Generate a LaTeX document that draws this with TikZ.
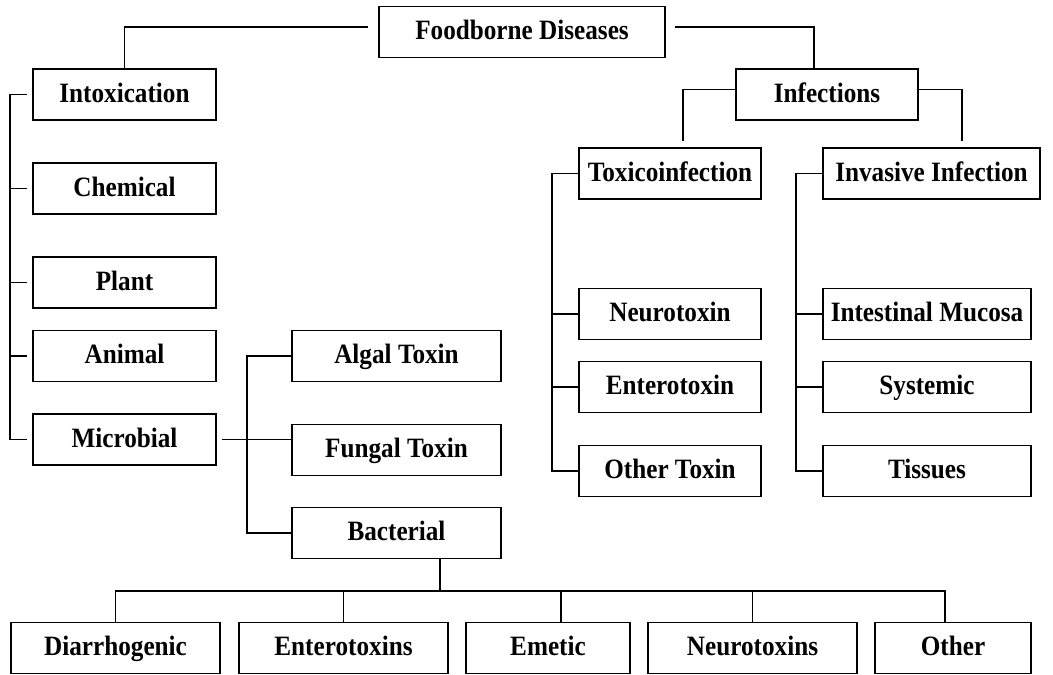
\documentclass[tikz,border=0pt]{standalone}
\usepackage{fontspec}
\setmainfont{Liberation Serif}[FakeStretch=0.9]
\usetikzlibrary{positioning}

\begin{document}
\begin{tikzpicture}[x=1pt,y=-1pt,
    box/.style={draw, line width=1.2pt, minimum height=51pt, inner sep=0pt,
                text height=20pt, text depth=5pt,
                font=\fontsize{28}{32}\selectfont\bfseries},
    link/.style={line width=1.2pt}]
                \useasboundingbox (0,0) rectangle (1053,675);

                % Root
                \node[box, minimum width=286pt] (fd) at (522,32) {Foodborne Diseases};

                % Intoxication branch
                \node[box, minimum width=183pt] (intox) at (124.5,94.5) {Intoxication};
                \node[box, minimum width=183pt] (chem) at (124.5,188.5) {Chemical};
                \node[box, minimum width=183pt] (plant) at (124.5,282.5) {Plant};
                \node[box, minimum width=183pt] (animal) at (124.5,356) {Animal};
                \node[box, minimum width=183pt] (microb) at (124.5,439.5) {Microbial};
                % microbial toxins
                \node[box, minimum width=209pt] (algal) at (396.5,356) {Algal Toxin};
                \node[box, minimum width=209pt] (fungal) at (396.5,450) {Fungal Toxin};
                \node[box, minimum width=209pt] (bact) at (396.5,533) {Bacterial};
                % bacterial toxins
                \node[box, minimum width=209pt] (diarr) at (115.5,648) {Diarrhogenic};
                \node[box, minimum width=209pt] (entero) at (343.5,648) {Enterotoxins};
                \node[box, minimum width=164pt] (emetic) at (548,648) {Emetic};
                \node[box, minimum width=209pt] (neuro) at (752.5,648) {Neurotoxins};
                \node[box, minimum width=156pt] (other) at (953,648) {Other};

                % Infections branch
                \node[box, minimum width=182pt] (infect) at (827,94.5) {Infections};
                \node[box, minimum width=182pt] (toxico) at (670,173.5) {Toxicoinfection};
                \node[box, minimum width=217pt] (invas) at (931.5,173.5) {Invasive Infection};
                % toxicoinfection
                \node[box, minimum width=182pt] (neurotox) at (670,314) {Neurotoxin};
                \node[box, minimum width=182pt] (enterotox) at (670,387) {Enterotoxin};
                \node[box, minimum width=182pt] (othertox) at (670,471) {Other Toxin};
                % invasive infection
                \node[box, minimum width=208pt] (mucosa) at (927,314) {Intestinal Mucosa};
                \node[box, minimum width=208pt] (systemic) at (927,387) {Systemic};
                \node[box, minimum width=208pt] (tissues) at (927,471) {Tissues};

                % Root links
                \draw[link] ([xshift=-10pt,yshift=5pt]fd.west) -| (intox.north);
                \draw[link] ([xshift=9pt,yshift=5pt]fd.east) -| ([xshift=-13pt]infect.north);
                \draw[link] ([yshift=5pt]infect.west) -| ([xshift=13pt,yshift=6pt]toxico.north);
                \draw[link] ([yshift=5pt]infect.east) -| ([xshift=30.5pt,yshift=6pt]invas.north);

                % Intoxication bus
                \coordinate (ibus) at (10,0);
                \draw[link] ([xshift=-5pt]intox.west) -- (intox.west -| ibus) -- (microb.west -| ibus) -- ([xshift=-5pt]microb.west);
                \draw[link] ([xshift=-5pt]chem.west) -- (chem.west -| ibus);
                \draw[link] ([xshift=-5pt]plant.west) -- (plant.west -| ibus);
                \draw[link] ([xshift=-5pt]animal.west) -- (animal.west -| ibus);

                % Microbial bus
                \coordinate (mbus) at (247,0);
                \draw[link] ([xshift=5pt]microb.east) -- (microb.east -| fungal.west);
                \draw[link] (algal.west) -- (algal.west -| mbus) -- (bact.west -| mbus) -- (bact.west);

                % Bacterial bus
                \coordinate (bbus) at (0,591);
                \draw[link] ([xshift=43.5pt]bact.south) -- ([xshift=43.5pt]bact.south |- bbus);
                \draw[link] (diarr.north) -- (diarr.north |- bbus) -- ([xshift=-8pt]other.north |- bbus) -- ([xshift=-8pt]other.north);
                \draw[link] (entero.north) -- (entero.north |- bbus);
                \draw[link] ([xshift=13pt]emetic.north) -- ([xshift=13pt]emetic.north |- bbus);
                \draw[link] (neuro.north) -- (neuro.north |- bbus);

                % Toxicoinfection bus
                \coordinate (tbus) at (552,0);
                \draw[link] (toxico.west) -- (toxico.west -| tbus) -- (othertox.west -| tbus) -- (othertox.west);
                \draw[link] (neurotox.west) -- (neurotox.west -| tbus);
                \draw[link] (enterotox.west) -- (enterotox.west -| tbus);

                % Invasive infection bus
                \coordinate (vbus) at (796,0);
                \draw[link] (invas.west) -- (invas.west -| vbus) -- (tissues.west -| vbus) -- (tissues.west);
                \draw[link] (mucosa.west) -- (mucosa.west -| vbus);
                \draw[link] (systemic.west) -- (systemic.west -| vbus);
\end{tikzpicture}
\end{document}
